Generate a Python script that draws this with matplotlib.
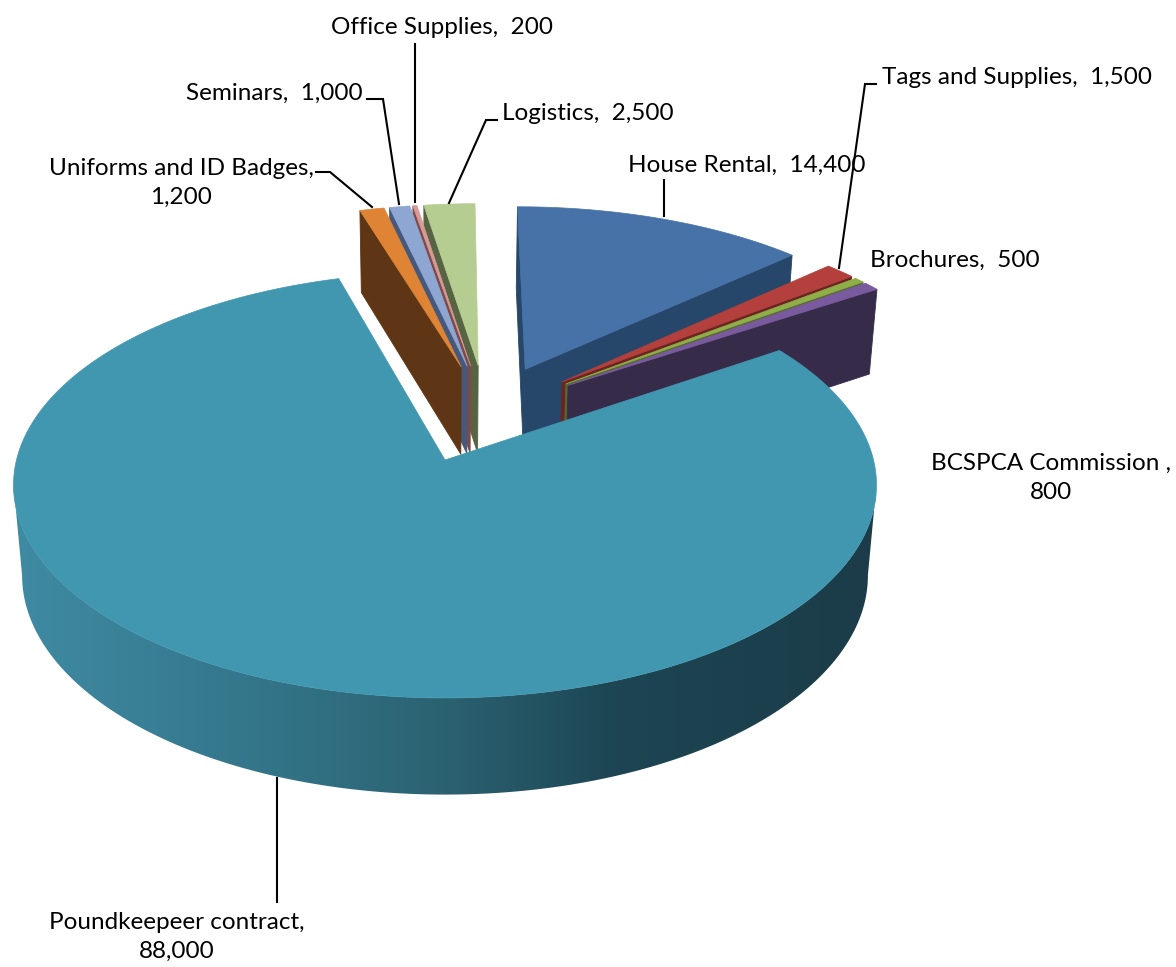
import numpy as np
import matplotlib
matplotlib.use("Agg")
import matplotlib.pyplot as plt
from matplotlib.colors import LinearSegmentedColormap
from matplotlib.patches import Polygon

categories = ["House Rental", "Tags and Supplies", "Brochures", "BCSPCA Commission ",
              "Poundkeepeer contract", "Uniforms and ID Badges", "Seminars",
              "Office Supplies", "Logistics"]
values = [14400, 1500, 500, 800, 88000, 1200, 1000, 200, 2500]
top_colors = ["#4672a8", "#b3403c", "#8fae4a", "#7a5a9e", "#4197b0",
              "#df8434", "#8ea6d2", "#d79a98", "#b6cd92"]
wall_colors = ["#264769", "#6b2422", "#566a2a", "#372b4a", "#1c3e4a",
               "#5e3515", "#46597c", "#7e4a48", "#566444"]
draw_order = [0, 8, 7, 6, 5, 1, 2, 3, 4]

# projected disc: unit circle seen in perspective, depth goes into z
X0, Y0 = 445, 460
R, H = 428.5, 210
K = 0.1174
DROP, ZK = 92, 0.02
EXPLODE = 0.245
SHIFT_U = 0.015
FAR_U = 0.98
FAR_V = 0.95

rim_cmap = LinearSegmentedColormap.from_list(
    "rim", [(0, "#3f8ba3"), (0.3, "#337488"), (0.5, "#2b6272"), (0.7, "#1d4553"), (1, "#1b3c48")])

plt.rcParams['font.family'] = ['Lato', 'DejaVu Sans']
fig = plt.figure(figsize=(11.76, 9.67), dpi=100)
ax = fig.add_axes([0, 0, 1, 1])


def project(u, v, z=0):
    w = 1 + K * v + ZK * z
    return X0 + R * u / w, Y0 + (-H * v + DROP * z) / w


sweeps = np.array(values) / sum(values) * 2 * np.pi
ends = np.cumsum(sweeps)
starts = ends - sweeps
mids = (starts + ends) / 2
base = EXPLODE * np.array([np.sin(mids[4]), np.cos(mids[4])])

for order, i in enumerate(draw_order):
    off = EXPLODE * np.array([np.sin(mids[i]), np.cos(mids[i])]) - base
    t = np.linspace(starts[i], ends[i], max(int(sweeps[i] * 60), 6))
    if i == 4:
        off = off * 0
        us, vs = np.sin(t), np.cos(t)
    else:
        off[0] += SHIFT_U
        us = off[0] + FAR_U * np.sin(t)
        vs = off[1] + FAR_V * np.cos(t)
    apex = (off[0], off[1])
    loop = [apex] + list(zip(us, vs)) + [apex]
    if i == 4:
        # front rim of the big slice, from widest point right to widest point left
        px = np.array([project(u, v)[0] for u, v in zip(us, vs)])
        front = list(zip(us, vs))[px.argmax():px.argmin() + 1]
        rim = [project(*p) for p in front] + [project(*p, 1) for p in front[::-1]]
        patch = Polygon(rim, closed=True, fc="none", ec="none", transform=ax.transData)
        ax.add_patch(patch)
        shade = np.linspace(0, 1, 256).reshape(1, -1)
        im = ax.imshow(shade, cmap=rim_cmap, extent=[13, 876, 800, 400], aspect="auto", zorder=order)
        im.set_clip_path(patch)
    else:
        # only edges running leftwards on the clockwise loop face the viewer
        for p, q in zip(loop[:-1], loop[1:]):
            if project(*q)[0] < project(*p)[0]:
                a, b = project(*p), project(*q)
                c, d = project(*q, 1), project(*p, 1)
                ax.fill([a[0], b[0], c[0], d[0]], [a[1], b[1], c[1], d[1]],
                        color=wall_colors[i], lw=0.6, zorder=order)
    xy = np.array([project(*p) for p in loop])
    ax.fill(xy[:, 0], xy[:, 1], color=top_colors[i], lw=0.5, zorder=order)

leaders = [
    ([664, 664], [180, 216]),
    ([876, 865, 839], [84, 84, 268]),
    ([497, 486, 449], [120, 120, 203]),
    ([415, 415], [44, 202]),
    ([367, 383, 399], [99, 99, 204]),
    ([316, 330, 372], [172, 172, 207]),
    ([277, 277], [778, 902]),
]
for lx, ly in leaders:
    ax.plot(lx, ly, color="black", lw=1.5, zorder=20, solid_joinstyle="miter")

wrapped = ["BCSPCA Commission ", "Poundkeepeer contract", "Uniforms and ID Badges"]
label_pos = [(628, 165, "left"), (882, 78, "left"), (870, 260, "left"), (1051, 478, "center"),
             (177, 937, "center"), (181, 183, "center"), (186, 93, "left"),
             (442, 27, "center"), (502, 114, "left")]
for name, val, (tx, ty, ha) in zip(categories, values, label_pos):
    sep = ",\n" if name in wrapped else ",  "
    ax.text(tx, ty, f"{name}{sep}{val:,}", ha=ha, va="center", multialignment="center",
            fontsize=17.5, color="black", linespacing=1.5, zorder=30)

ax.set_xlim(0, 1176)
ax.set_ylim(967, 0)
ax.axis("off")
fig.savefig("out.png", dpi=100)
